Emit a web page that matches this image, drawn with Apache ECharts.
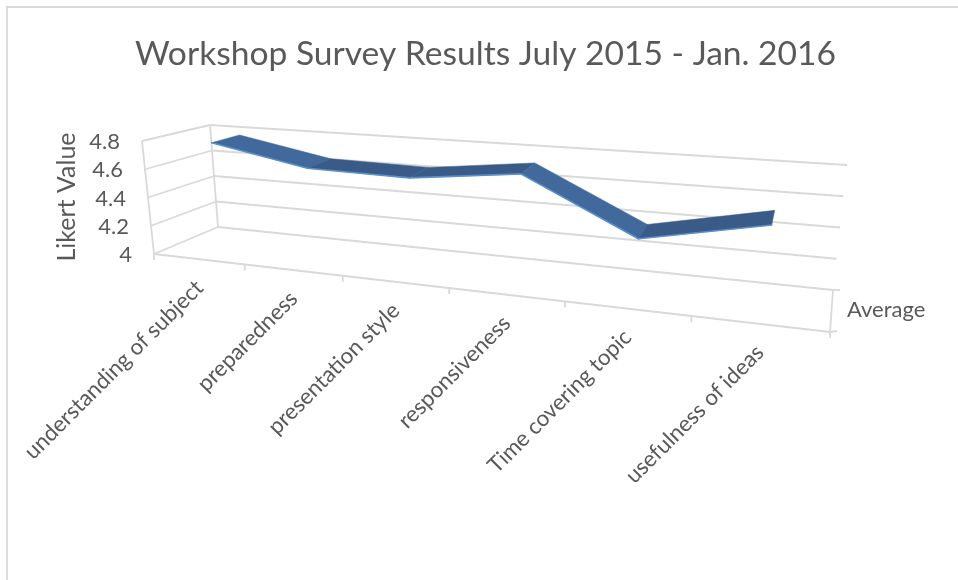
<!DOCTYPE html>
<html lang="en">
  <head>
    <meta charset="utf-8" />
    <title>Workshop Survey Results</title>
    <script src="https://cdn.jsdelivr.net/npm/echarts@6/dist/echarts.min.js"></script>
    <style>
      html, body { margin: 0; padding: 0; background: #fff; }
      #chart { width: 958px; height: 580px; }
    </style>
  </head>
  <body>
    <div id="chart"></div>
    <script>
      var categories = ['understanding of subject', 'preparedness', 'presentation style', 'responsiveness', 'Time covering topic', 'usefulness of ideas']
      var averages = [4.77, 4.64, 4.63, 4.715, 4.36, 4.52]
      var valueTicks = [4, 4.2, 4.4, 4.6, 4.8]
      var seriesName = 'Average'
      var valueTitle = 'Likert Value'

      var GRID = '#d9d9d9'
      var TEXT = '#595959'
      var FONT = 'Lato, "Open Sans", sans-serif'

      // corners of the chart box on screen, Excel style 3D view
      var box = {
        fb0: [154, 254], fb1: [830, 332], bb0: [218, 227], bb1: [833, 290],
        ft0: [142, 141], ft1: [849, 196], bt0: [210, 125], bt1: [847, 165]
      }
      var RIBBON_FRONT = 0.36
      var RIBBON_BACK = 0.8

      function mix(a, b, t) {
        return [a[0] + (b[0] - a[0]) * t, a[1] + (b[1] - a[1]) * t]
      }

      // u along the categories, v up the values, w into the page (all 0..1)
      function project(u, v, w) {
        var p = u / (u + 1.29 * (1 - u))
        var front = mix(mix(box.fb0, box.fb1, p), mix(box.ft0, box.ft1, p), v)
        var back = mix(mix(box.bb0, box.bb1, p), mix(box.bt0, box.bt1, p), v)
        return mix(front, back, w)
      }

      // grid pixel from the axes -> position in the box
      function place(cs, pt, w) {
        return project((pt[0] - cs.x) / cs.width, 1 - (pt[1] - cs.y) / cs.height, w)
      }

      function seg(a, b) {
        return {
          type: 'line',
          shape: { x1: a[0], y1: a[1], x2: b[0], y2: b[1] },
          style: { stroke: GRID, lineWidth: 1.8 }
        }
      }

      function renderValueRow(params, api) {
        var cs = params.coordSys
        var val = api.value(0)
        var y = api.coord([0, val])[1]
        var v = 1 - (y - cs.y) / cs.height
        var leftFront = project(0, v, 0)
        var leftBack = project(0, v, 1)
        var rightBack = project(1, v, 1)
        return {
          type: 'group',
          children: [
            seg(leftFront, leftBack),
            seg(leftBack, rightBack),
            {
              type: 'text',
              style: {
                text: String(val), x: leftFront[0] - 22, y: leftFront[1] + 1,
                align: 'right', verticalAlign: 'middle', font: '22px ' + FONT, fill: TEXT
              }
            }
          ]
        }
      }

      function renderCategory(params, api) {
        var cs = params.coordSys
        var i = api.value(0)
        var base = place(cs, api.coord([i, valueTicks[0]]), 0)
        var tickU = (i + 1) / categories.length
        var tick = project(tickU, 0, 0)
        return {
          type: 'group',
          children: [
            seg(tick, [tick[0], tick[1] + 6]),
            {
              type: 'text',
              x: base[0] + 1,
              y: base[1] + 25,
              rotation: Math.PI / 4,
              style: {
                text: categories[i], x: 0, y: 0,
                align: 'right', verticalAlign: 'middle', font: '22.3px ' + FONT, fill: TEXT
              }
            }
          ]
        }
      }

      function renderRibbon(params, api) {
        var cs = params.coordSys
        var i = api.value(0)
        if (i >= averages.length - 1) return { type: 'group', children: [] }
        var a = api.coord([i, averages[i]])
        var b = api.coord([i + 1, averages[i + 1]])
        var a0 = place(cs, a, RIBBON_FRONT)
        var a1 = place(cs, a, RIBBON_BACK)
        var b0 = place(cs, b, RIBBON_FRONT)
        var b1 = place(cs, b, RIBBON_BACK)
        var falling = averages[i + 1] < averages[i] - 0.02
        return {
          type: 'group',
          children: [
            {
              type: 'polygon',
              shape: { points: [a0, b0, b1, a1] },
              style: { fill: falling ? '#41699c' : '#3a5b88', stroke: falling ? '#41699c' : '#3a5b88', lineWidth: 0.5 }
            },
            {
              type: 'line',
              shape: { x1: a0[0], y1: a0[1], x2: b0[0], y2: b0[1] },
              style: { stroke: '#5a8fcb', lineWidth: 1.6, lineCap: 'round' }
            }
          ]
        }
      }

      // the parts of the box that do not depend on a value
      var lower = project(0, 0, 0)
      var frameLines = [
        [project(0, 0, 0), project(0, 1, 0)],
        [project(0, 0, 1), project(0, 1, 1)],
        [project(0, 0, 0), project(1, 0, 0)],
        [project(1, 0, 0), project(1, 0, 1)],
        [project(1, 0, 1), [project(1, 0, 1)[0] + 7, project(1, 0, 1)[1]]],
        [project(1, 0, 0), [project(1, 0, 0)[0] + 7, project(1, 0, 0)[1] - 1]],
        [lower, [lower[0], lower[1] + 6]]
      ]

      var chart = echarts.init(document.getElementById('chart'))
      chart.setOption({
        animation: false,
        backgroundColor: '#fff',
        title: {
          text: 'Workshop Survey Results July 2015 - Jan. 2016',
          left: 130,
          top: 32,
          textStyle: { color: TEXT, fontFamily: FONT, fontSize: 33.6, fontWeight: 'normal' }
        },
        grid: { left: 154, top: 125, width: 676, height: 130 },
        xAxis: { type: 'category', data: categories, show: false },
        yAxis: { type: 'value', min: 4, max: 4.8, interval: 0.2, show: false },
        graphic: [
          {
            type: 'polyline', silent: true,
            shape: { points: [[7, 580], [7, 7], [958, 7]] },
            style: { stroke: GRID, lineWidth: 1.8, fill: 'none' }
          },
          {
            type: 'text', silent: true, x: 847, y: 299,
            style: { text: seriesName, font: '22px ' + FONT, fill: TEXT }
          },
          {
            type: 'text', silent: true, x: 67, y: 197, rotation: Math.PI / 2,
            style: { text: valueTitle, font: '25px ' + FONT, fill: TEXT, align: 'center', verticalAlign: 'middle' }
          }
        ].concat(frameLines.map(function (l) {
          return { type: 'line', silent: true, shape: { x1: l[0][0], y1: l[0][1], x2: l[1][0], y2: l[1][1] }, style: { stroke: GRID, lineWidth: 1.8 } }
        })),
        series: [
          {
            type: 'custom', name: 'value rows', clip: false, silent: true,
            data: valueTicks.map(function (t) { return [t] }),
            encode: { y: 0 },
            renderItem: renderValueRow
          },
          {
            type: 'custom', name: 'categories', clip: false, silent: true,
            data: categories.map(function (c, i) { return [i] }),
            encode: { x: 0 },
            renderItem: renderCategory
          },
          {
            type: 'custom', name: seriesName, clip: false, silent: true,
            data: averages.map(function (a, i) { return [i, a] }),
            encode: { x: 0, y: 1 },
            renderItem: renderRibbon
          }
        ]
      })
    </script>
  </body>
</html>
